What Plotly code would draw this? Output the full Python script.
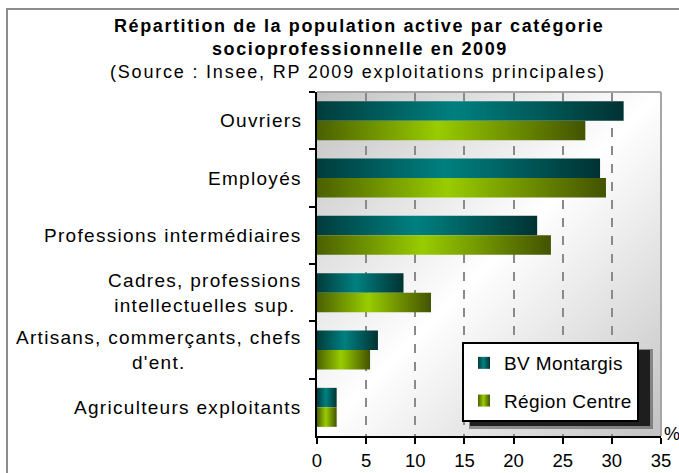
import base64
import plotly.graph_objects as go

# ---- data ----
categories = [
    "Ouvriers",
    "Employés",
    "Professions intermédiaires",
    "Cadres, professions<br>intellectuelles sup.",
    "Artisans, commerçants, chefs<br>d'ent.",
    "Agriculteurs exploitants",
]
bv_montargis = [31.2, 28.8, 22.4, 8.8, 6.2, 2.0]
region_centre = [27.3, 29.4, 23.8, 11.6, 5.4, 2.0]
series_names = ["BV Montargis", "Région Centre"]
x_ticks = [0, 5, 10, 15, 20, 25, 30, 35]

title_lines = [
    "Répartition de la population active par catégorie",
    "socioprofessionnelle en 2009",
]
subtitle = "(Source : Insee, RP 2009 exploitations principales)"

FONT = "Liberation Sans, Arial, sans-serif"
W, H = 679, 473
L, R, T, B = 317, 18, 92, 37
PW, PH = W - L - R, H - T - B


def px_x(p):
    return (p - L) / PW


def px_y(p):
    return (H - B - p) / PH


def spaced(text, ls):
    return '<span style="letter-spacing:%spx">%s</span>' % (ls, text)


fig = go.Figure()
fig.add_trace(go.Bar(y=categories, x=bv_montargis, name=spaced(series_names[0], 0.4), orientation="h",
                     marker=dict(color="#007070", line=dict(width=0)), legendgroup="a"))
fig.add_trace(go.Bar(y=categories, x=region_centre, name=spaced(series_names[1], 0.4), orientation="h",
                     marker=dict(color="#88b400", line=dict(width=0)), legendgroup="b"))

# background gradient image for the plot area
svg_bg = (
    '<svg xmlns="http://www.w3.org/2000/svg" width="100" height="100" preserveAspectRatio="none" viewBox="0 0 100 100">'
    '<defs><linearGradient id="g" x1="0" y1="0" x2="1" y2="1">'
    '<stop offset="0" stop-color="#c2c2c2"/><stop offset="0.5" stop-color="#ffffff"/>'
    '<stop offset="1" stop-color="#c2c2c2"/></linearGradient></defs>'
    '<rect width="100" height="100" fill="url(#g)"/></svg>'
)
bg_uri = "data:image/svg+xml;base64," + base64.b64encode(svg_bg.encode()).decode()

annotations = [
    dict(text="<b>" + spaced(title_lines[0], 1.6) + "</b>", x=px_x(359), y=px_y(26), xref="paper", yref="paper",
         showarrow=False, xanchor="center", yanchor="middle", font=dict(family=FONT, size=18, color="#000")),
    dict(text="<b>" + spaced(title_lines[1], 1.6) + "</b>", x=px_x(360), y=px_y(49), xref="paper", yref="paper",
         showarrow=False, xanchor="center", yanchor="middle", font=dict(family=FONT, size=18, color="#000")),
    dict(text=spaced(subtitle, 1.8), x=px_x(358), y=px_y(72), xref="paper", yref="paper",
         showarrow=False, xanchor="center", yanchor="middle", font=dict(family=FONT, size=18, color="#000")),
    dict(text="%", x=px_x(662), y=px_y(434), xref="paper", yref="paper", showarrow=False,
         xanchor="left", yanchor="middle", font=dict(family=FONT, size=18, color="#000")),
]
for c in categories:
    annotations.append(dict(text=spaced(c, 1.3), x=px_x(304), y=c, xref="paper", yref="y", showarrow=False,
                            xanchor="right", yanchor="middle", align="center",
                            font=dict(family=FONT, size=19, color="#000")))

shapes = [
    # outer chart border
    dict(type="rect", xref="paper", yref="paper", x0=px_x(7), x1=px_x(700), y0=px_y(490), y1=px_y(9),
         line=dict(color="#8c8c8c", width=2), fillcolor="rgba(0,0,0,0)", layer="below"),
    # plot area top/right border
    dict(type="line", xref="paper", yref="paper", x0=0, x1=1, y0=1, y1=1, line=dict(color="#a6a6a6", width=2)),
    dict(type="line", xref="paper", yref="paper", x0=1, x1=1, y0=0, y1=1, line=dict(color="#a6a6a6", width=2)),
    # legend shadow
    dict(type="rect", xref="paper", yref="paper", x0=px_x(469), x1=px_x(653), y0=px_y(429), y1=px_y(349),
         line=dict(width=0), fillcolor="rgba(60,60,60,0.5)"),
    dict(type="rect", xref="paper", yref="paper", x0=px_x(470), x1=px_x(650), y0=px_y(426), y1=px_y(350),
         line=dict(width=0), fillcolor="#1e1e1e"),
]

fig.update_layout(
    width=W, height=H,
    margin=dict(l=L, r=R, t=T, b=B, autoexpand=False),
    paper_bgcolor="white",
    plot_bgcolor="rgba(0,0,0,0)",
    barmode="group",
    bargap=0.32,
    bargroupgap=0,
    font=dict(family=FONT, size=18, color="#000"),
    showlegend=True,
    legend=dict(x=px_x(462), y=px_y(342), xanchor="left", yanchor="top",
                bgcolor="white", bordercolor="#000", borderwidth=2,
                font=dict(family=FONT, size=19, color="#000"),
                tracegroupgap=10, traceorder="grouped"),
    annotations=annotations,
    shapes=shapes,
    images=[dict(source=bg_uri, xref="paper", yref="paper", x=0, y=1, sizex=1, sizey=1,
                 sizing="stretch", layer="below", xanchor="left", yanchor="top")],
)
fig.update_xaxes(range=[0, 35], tickvals=x_ticks, ticktext=[str(v) for v in x_ticks],
                 showgrid=True, gridcolor="#8a8a8a", griddash="dash", gridwidth=1.5,
                 zeroline=False, showline=True, linecolor="#000", linewidth=2, automargin=False,
                 ticks="outside", ticklen=6, tickwidth=2, tickcolor="#000", ticklabelstandoff=1,
                 tickfont=dict(family=FONT, size=18.5, color="#000"), fixedrange=True)
fig.update_yaxes(autorange="reversed", showticklabels=False, showline=True, linecolor="#000", linewidth=2,
                 ticks="outside", ticklen=6, tickwidth=2, tickcolor="#000", tickson="boundaries",
                 showgrid=False, zeroline=False, fixedrange=True, automargin=False)

post_js = """
document.body.style.margin = '0';
document.documentElement.style.overflow = 'hidden';
var gd = document.getElementById('{plot_id}');
function applyGrad(){
  var ns = 'http://www.w3.org/2000/svg';
  var svg = gd.querySelector('svg.main-svg');
  if (!svg) return;
  var defs = svg.querySelector('defs');
  if (!document.getElementById('gradTeal')) {
    var mk = function(id, stops){
      var lg = document.createElementNS(ns, 'linearGradient');
      lg.setAttribute('id', id);
      lg.setAttribute('x1', '0'); lg.setAttribute('y1', '0');
      lg.setAttribute('x2', '1'); lg.setAttribute('y2', '0');
      stops.forEach(function(s){
        var st = document.createElementNS(ns, 'stop');
        st.setAttribute('offset', s[0]); st.setAttribute('stop-color', s[1]);
        lg.appendChild(st);
      });
      defs.appendChild(lg);
    };
    mk('gradTeal', [[0, '#003c3c'], [0.45, '#008080'], [1, '#003232']]);
    mk('gradGreen', [[0, '#4a6000'], [0.45, '#99cc00'], [1, '#435300']]);
  }
  var ids = ['gradTeal', 'gradGreen'];
  gd.querySelectorAll('.barlayer .trace').forEach(function(t, i){
    t.querySelectorAll('path').forEach(function(p){ p.style.fill = 'url(#' + ids[i] + ')'; });
  });
  gd.querySelectorAll('.legend .traces').forEach(function(t, i){
    t.querySelectorAll('.legendpoints path').forEach(function(p){ p.style.fill = 'url(#' + ids[i] + ')'; });
  });
}
applyGrad();
gd.on('plotly_afterplot', applyGrad);
"""

fig.write_html("out.html", post_script=post_js, config={"displayModeBar": False})
